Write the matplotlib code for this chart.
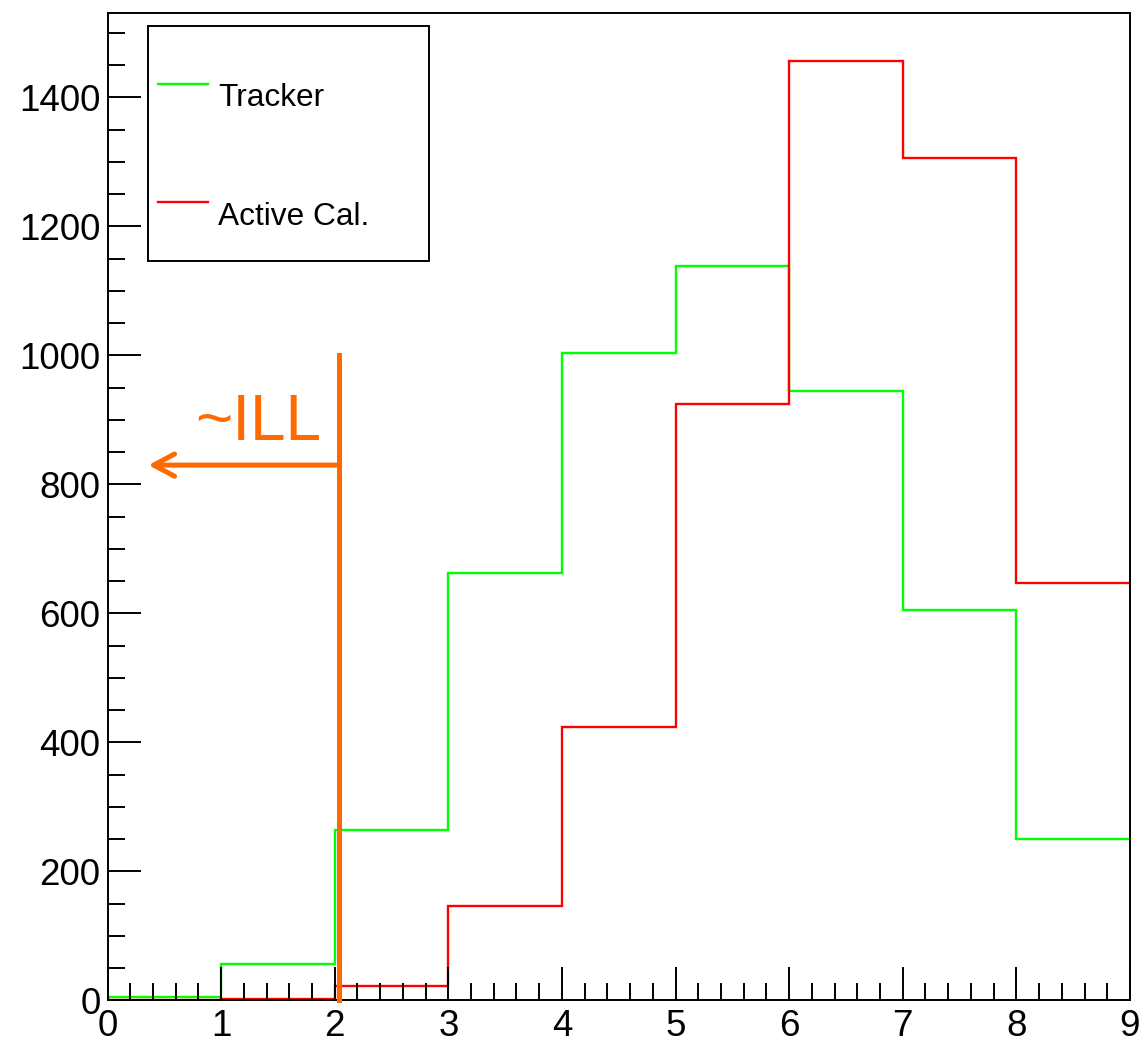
import numpy as np
import matplotlib
matplotlib.use('Agg')
import matplotlib.pyplot as plt
from matplotlib.patches import Rectangle
from matplotlib.lines import Line2D
from matplotlib.ticker import MultipleLocator

plt.rcParams['font.family'] = ['Liberation Sans', 'DejaVu Sans']

# bin edges and per-bin counts
bin_edges = np.arange(0, 10, 1)
tracker_counts = [6, 56, 264, 663, 1004, 1139, 945, 606, 250]
active_cal_counts = [0, 3, 23, 147, 424, 924, 1457, 1306, 647]

# ILL marker position
ill_x = 2.04
ill_top = 1000
ill_arrow_y = 830
ill_arrow_end = 0.36

fig = plt.figure(figsize=(11.4, 10.45), dpi=100)
ax = fig.add_axes([0.0943, 0.0426, 0.8969, 0.945])

# histogram outlines without the drop to zero at the outer edges
ax.stairs(tracker_counts, bin_edges, baseline=None, color='#00ff00', linewidth=1.7, label='Tracker')
ax.stairs(active_cal_counts, bin_edges, baseline=None, color='#ff0000', linewidth=1.7, label='Active Cal.')

ax.set_xlim(0, 9)
ax.set_ylim(0, 1531)

ax.xaxis.set_major_locator(MultipleLocator(1))
ax.xaxis.set_minor_locator(MultipleLocator(0.2))
ax.yaxis.set_major_locator(MultipleLocator(200))
ax.yaxis.set_minor_locator(MultipleLocator(50))
ax.tick_params(which='both', direction='in', width=1.4, labelsize=26.5,
               top=False, right=False, color='black')
ax.tick_params(which='major', length=24)
ax.tick_params(which='minor', length=12.5)
ax.tick_params(axis='x', pad=6)
ax.tick_params(axis='y', pad=5)
for s in ax.spines.values():
    s.set_linewidth(1.4)
    s.set_zorder(4)

# legend box, ROOT style
box = Rectangle((0.0396, 0.7489), 0.2748, 0.2379, transform=ax.transAxes,
                facecolor='white', edgecolor='black', linewidth=1.4, zorder=5)
ax.add_patch(box)
for y_line, y_text, col, lab in [(0.9281, 0.9139, '#00ff00', 'Tracker'),
                                 (0.8086, 0.7934, '#ff0000', 'Active Cal.')]:
    ax.add_line(Line2D([0.0494, 0.0983], [y_line, y_line], transform=ax.transAxes,
                       color=col, linewidth=1.7, zorder=6))
    ax.text(0.1081, y_text, lab, transform=ax.transAxes, fontsize=22.8,
            va='center', ha='left', zorder=6)

# ILL cut line with arrow
orange = '#ff6a00'
ax.plot([ill_x, ill_x], [0, ill_top], color=orange, linewidth=3.6, clip_on=False, zorder=7)
ax.annotate('', xy=(ill_arrow_end, ill_arrow_y), xytext=(ill_x, ill_arrow_y),
            arrowprops=dict(arrowstyle='->,head_length=0.75,head_width=0.4',
                            color=orange, lw=3.6, mutation_scale=20,
                            shrinkA=0, shrinkB=0), zorder=7)
ax.text(0.77, 869, '~ILL', color=orange, fontsize=46, ha='left', va='baseline')

fig.savefig('out.png', dpi=100)
